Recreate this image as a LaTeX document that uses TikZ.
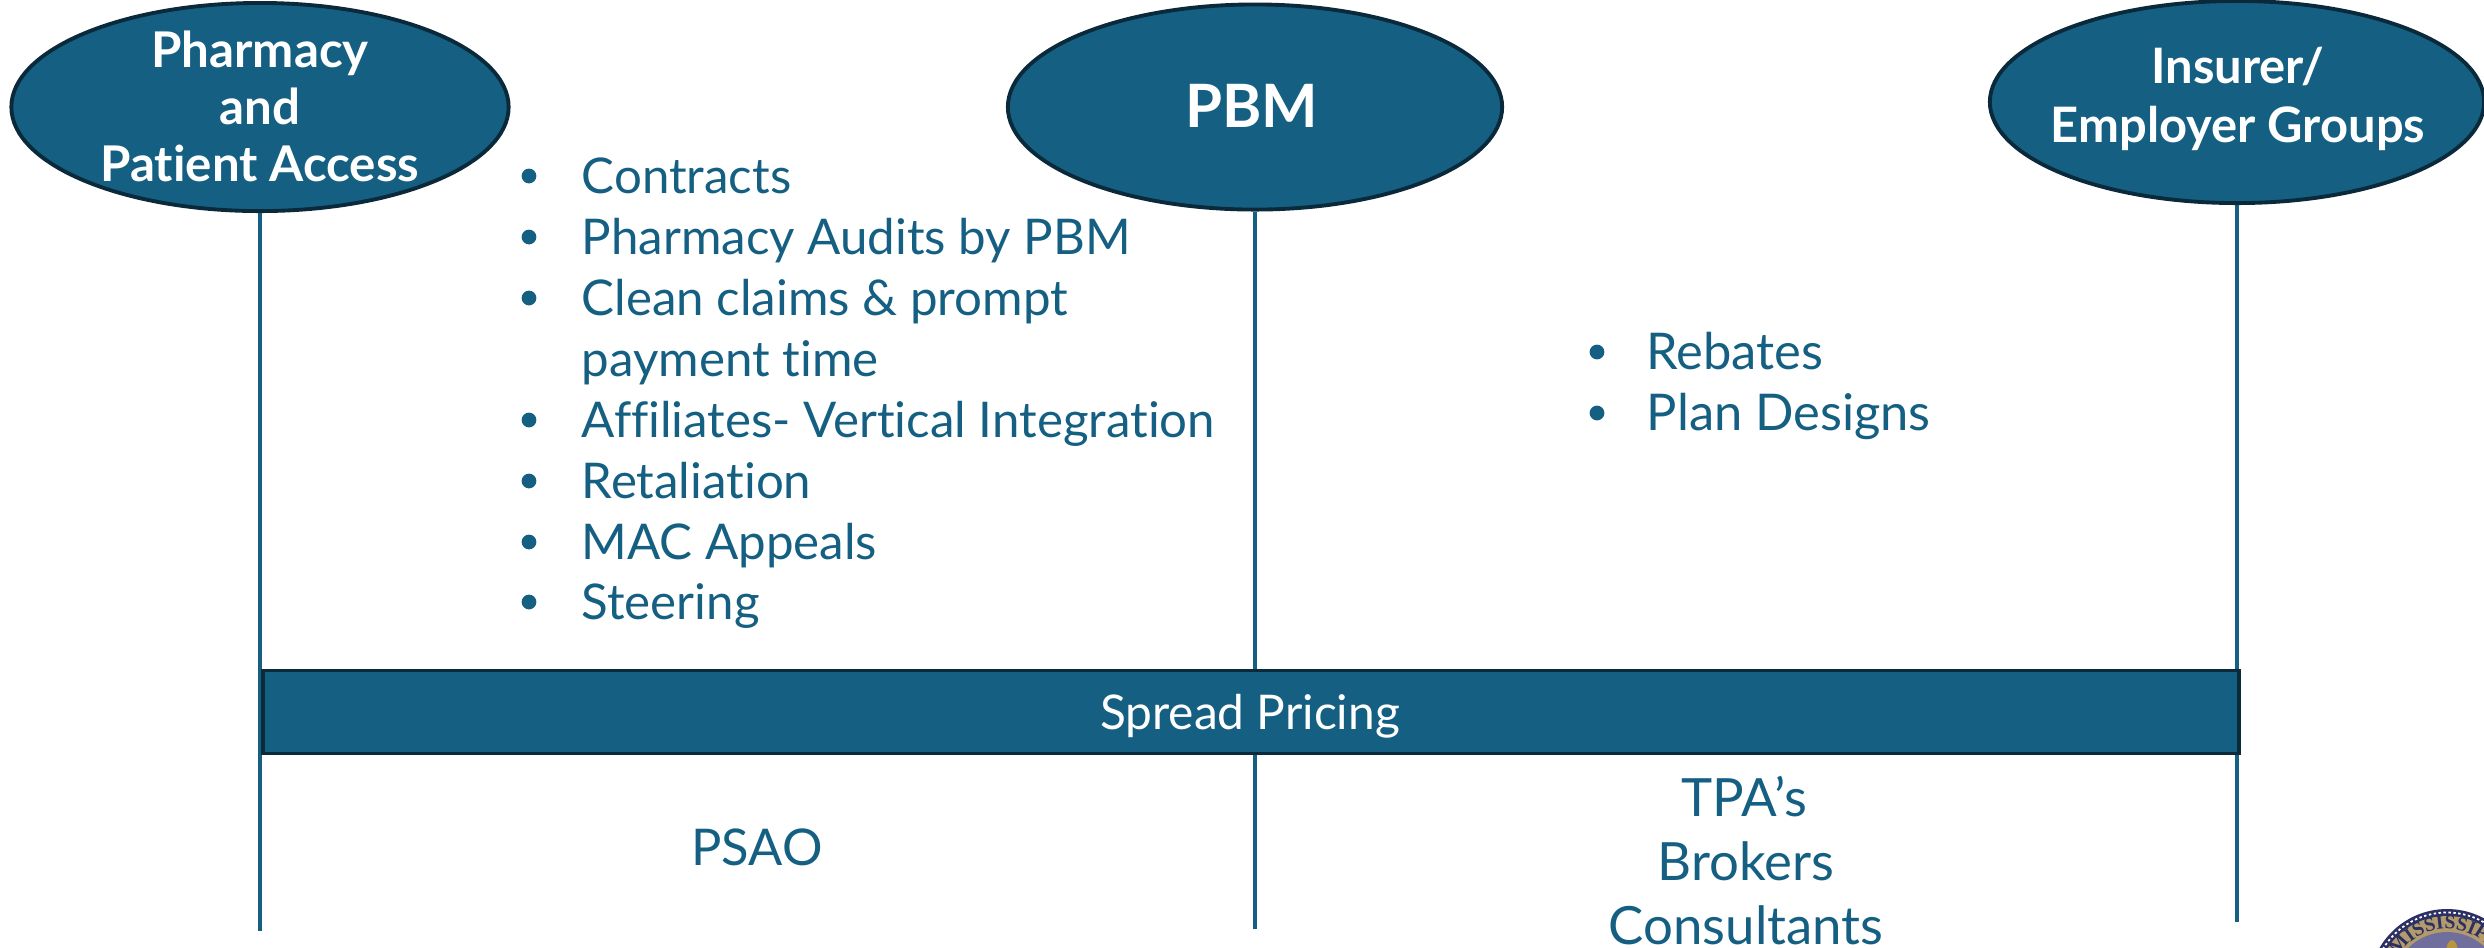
\documentclass[tikz,border=0pt]{standalone}
\usepackage{fontspec}
\setmainfont{Lato}[Ligatures=NoCommon]
\newfontfamily\sealfont{Liberation Serif}
\usetikzlibrary{shapes.geometric,decorations.text}
\definecolor{tealblue}{HTML}{156082}
\definecolor{darkrim}{HTML}{0A2A3C}
\definecolor{sealnavy}{HTML}{2B2F63}
\definecolor{sealtan}{HTML}{B39A6B}
\definecolor{sealinner}{HTML}{6F6E9C}
\definecolor{sealgold}{HTML}{B8953F}
\begin{document}
\begin{tikzpicture}[x=0.01cm,y=0.01cm]
    \tikzstyle{every node}+=[inner sep=0pt]
    \tikzstyle{party}=[ellipse, draw=darkrim, fill=tealblue, line width=1.1pt]
    \tikzstyle{partytext}=[text=white, align=center, font=\fontsize{14}{16.2}\selectfont\bfseries]
    \tikzstyle{lifeline}=[tealblue, line width=1.1pt]
    \tikzstyle{item}=[anchor=base west, text=tealblue, font=\fontsize{14}{17}\selectfont]
    \tikzstyle{dot}=[circle, fill=tealblue, minimum size=4.2pt]
    \tikzstyle{plain}=[text=tealblue, font=\fontsize{15}{18}\selectfont]
    \useasboundingbox (0,-947) rectangle (2484,0);
    % the three parties
    \node [party, minimum width=4.97cm, minimum height=2.08cm] (pharmacy) at (260,-107) {};
    \node [party, minimum width=4.94cm, minimum height=2.05cm] (pbm) at (1255,-107) {};
    \node [party, minimum width=4.94cm, minimum height=2.02cm] (insurer) at (2237,-102) {};
    \node [partytext] (pharmacylabel) at (260,-106) {Pharmacy\\and\\Patient Access};
    \node [partytext, font=\fontsize{17}{20}\selectfont\bfseries] (pbmlabel) at (1252,-106) {PBM};
    \node [partytext, font=\fontsize{13.9}{16.8}\selectfont\bfseries] (insurerlabel) at (2238,-99) {Insurer/\\Employer Groups};
    % lines down from the parties
    \coordinate (pharmacyend) at (260,-931);
    \coordinate (pbmend) at (1255,-929);
    \coordinate (insurerend) at (2237,-922);
    \draw [lifeline] (pharmacy.south) -- (pharmacyend);
    \draw [lifeline] (pbm.south) -- (pbmend);
    \draw [lifeline] (insurer.south) -- (insurerend);
    % bar
    \node [draw=darkrim, fill=tealblue, line width=1.1pt, minimum width=19.74cm, minimum height=0.83cm] (spread) at (1251,-712) {};
    \node [text=white, font=\fontsize{13.6}{16}\selectfont] (spreadlabel) at (1250,-716) {Spread Pricing};
    % left list
    \node [dot] (dota) at (529,-176) {};
    \node [item] (contracts) at (581,-193) {Contracts};
    \node [dot] (dotb) at (529,-237) {};
    \node [item] (audits) at (581,-254) {Pharmacy Audits by PBM};
    \node [dot] (dotc) at (529,-298) {};
    \node [item] (claims) at (581,-315) {Clean claims \& prompt};
    \node [item] (payment) at (581,-376) {payment time};
    \node [dot] (dotd) at (529,-420) {};
    \node [item] (affiliates) at (581,-437) {Affiliates- Vertical Integration};
    \node [dot] (dote) at (529,-481) {};
    \node [item] (retaliation) at (581,-498) {Retaliation};
    \node [dot] (dotf) at (529,-542) {};
    \node [item] (appeals) at (581,-559) {MAC Appeals};
    \node [dot] (dotg) at (529,-602) {};
    \node [item] (steering) at (581,-619) {Steering};
    % right list
    \node [dot] (doth) at (1597,-352) {};
    \node [item, font=\fontsize{14.4}{17}\selectfont] (rebates) at (1646,-369) {Rebates};
    \node [dot] (doti) at (1597,-413) {};
    \node [item, font=\fontsize{14.4}{17}\selectfont] (designs) at (1646,-430) {Plan Designs};
    % below the bar
    \node [plain, font=\fontsize{14.4}{17}\selectfont] (psao) at (757,-847) {PSAO};
    \node [plain] (tpa) at (1744,-797) {TPA’s};
    \node [plain] (brokers) at (1746,-861) {Brokers};
    \node [plain] (consultants) at (1746,-925) {Consultants};
    % seal in the corner
    \fill [sealnavy] (2447,-987) circle (78);
    \draw [white, line width=0.5pt, dash pattern=on 0.7pt off 0.7pt] (2447,-987) circle (74.5);
    \fill [sealtan] (2447,-987) circle (71);
    \fill [sealinner] (2447,-987) circle (55);
    \fill [sealgold] (2452,-953) ellipse (6 and 13);
    \path [decorate, decoration={text along path, text align=center, text={|\fontsize{5.6}{7}\sealfont\bfseries\color{sealnavy}|MISSISSIPPI}}] (2447,-987) ++(175:58) arc (175:5:58);
\end{tikzpicture}
\end{document}
